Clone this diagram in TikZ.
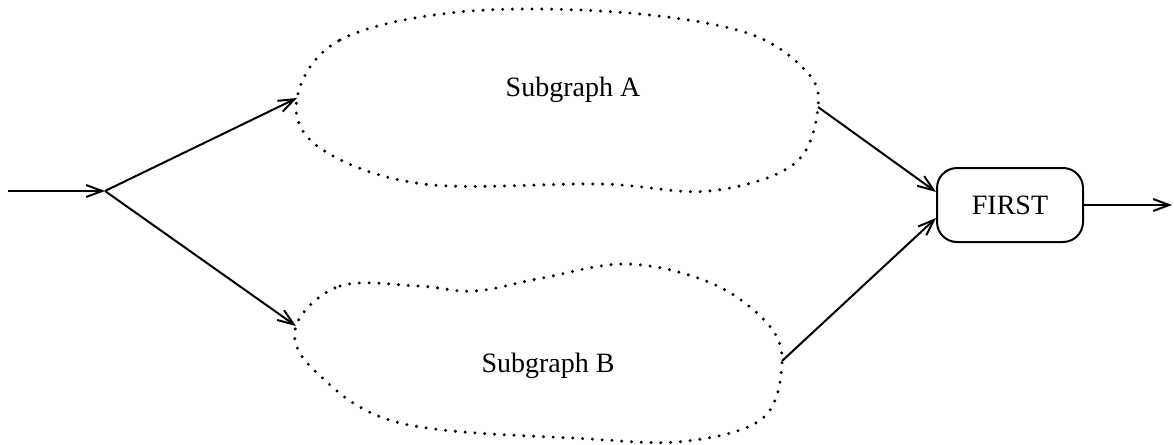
\documentclass[tikz,border=0pt]{standalone}
\usepackage{fontspec}
\setmainfont{Liberation Serif}
\usetikzlibrary{arrows.meta, positioning}
\tikzset{
    flow/.style={draw=black, line width=2pt, -{Straight Barb[length=16pt, width=12pt]}},
    blob/.style={draw=black, line width=3.3pt, line cap=round, dash pattern=on 0pt off 9.8pt},
    label/.style={font=\fontsize{28}{34}\selectfont},
    firstblock/.style={
        rectangle, draw=black, line width=2pt, rounded corners=20pt,
        minimum width=146pt, minimum height=74pt, font=\fontsize{28}{34}\selectfont
    }
}
\begin{document}
\begin{tikzpicture}[x=1pt, y=-1pt]
\useasboundingbox (0,0) rectangle (1174,444);

% Input and split point
\coordinate (src) at (8,191);
\coordinate (split) at (105,191);

% Subgraph A
\coordinate (Ain) at (297,98);
\coordinate (Aout) at (818,107);
\draw[blob] plot[smooth cycle, tension=0.6] coordinates {
    (Ain) (340,40) (459,12) (616,12) (744,32) (805,70) (Aout)
    (794,164) (709,191) (601,184) (423,184) (320,148)};
\node[label] (subA) at (573,90) {Subgraph A};

% Subgraph B
\coordinate (Bin) at (296,326);
\coordinate (Bout) at (782,361);
\draw[blob] plot[smooth cycle, tension=0.6] coordinates {
    (Bin) (340,286) (418,286) (475,291) (542,278) (628,264) (711,283)
    (766,322) (Bout) (763,418) (687,441) (590,439) (400,423) (314,370)};
\node[label] (subB) at (548,366) {Subgraph B};

% Output block
\node[firstblock] (first) at (1010,205) {FIRST};
\coordinate (sink) at (1172,205);

% Connections
\draw[flow] (src) -- (split);
\draw[flow] (split) -- (Ain);
\draw[flow] (split) -- (Bin);
\draw[flow] (Aout) -- (first.170);
\draw[flow] (Bout) -- (first.190);
\draw[flow] (first) -- (sink);

\end{tikzpicture}
\end{document}
